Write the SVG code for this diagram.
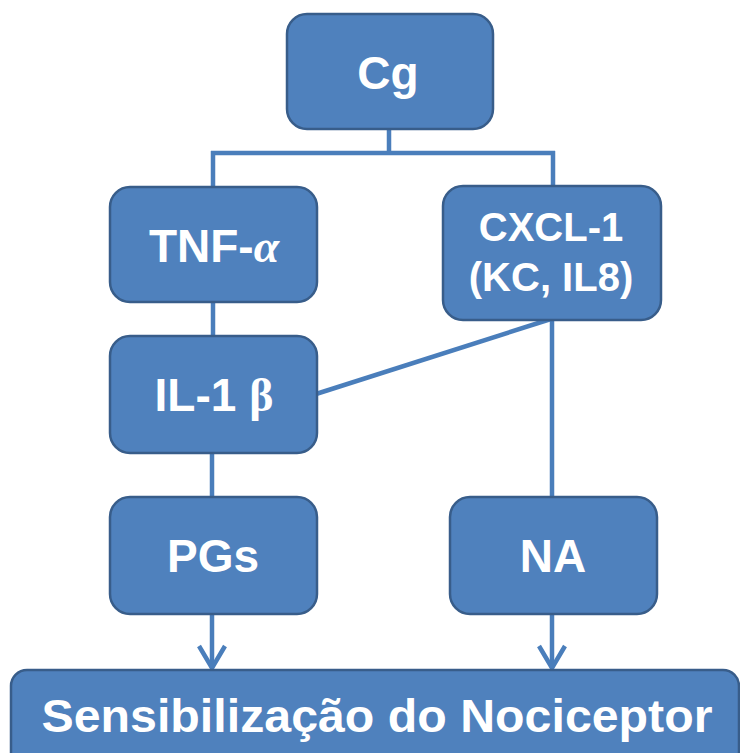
<svg xmlns="http://www.w3.org/2000/svg" width="740" height="753" viewBox="0 0 740 753">
  <defs>
    <style>
      .box { fill: #4F81BD; stroke: #385D8A; stroke-width: 2.5; }
      .lbl { fill: #FFFFFF; font-family: "Liberation Sans", Arial, sans-serif; font-weight: bold; text-anchor: middle; }
      .greek { font-family: "Liberation Serif", "Times New Roman", serif; font-weight: bold; }
      .conn { fill: none; stroke: #4A7EBB; stroke-width: 4.5; }
    </style>
    <marker id="chev" viewBox="0 0 28 30" refX="25" refY="15" markerWidth="28" markerHeight="30" markerUnits="userSpaceOnUse" orient="auto">
      <path d="M3,2 L25,15 L3,28" fill="none" stroke="#4A7EBB" stroke-width="4.5"/>
    </marker>
  </defs>
  <rect width="740" height="753" fill="#FFFFFF"/>

  <g id="connectors">
    <path class="conn" d="M389,130 V153 M211,153 H555 M213,151 V190 M553,151 V190"/>
    <path class="conn" d="M213,302 V340"/>
    <path class="conn" d="M212,452 V500"/>
    <path class="conn" d="M552,318 V500"/>
    <path class="conn" d="M316,394 L554,318"/>
    <path class="conn" d="M212,614 V668" marker-end="url(#chev)"/>
    <path class="conn" d="M552,614 V668" marker-end="url(#chev)"/>
  </g>

  <g id="node-cg">
    <rect class="box" x="287" y="14" width="206" height="115" rx="20"/>
    <text class="lbl" x="388" y="89" font-size="46">Cg</text>
  </g>

  <g id="node-tnf">
    <rect class="box" x="110" y="187" width="207" height="115" rx="20"/>
    <text class="lbl" x="214" y="262" font-size="46">TNF-<tspan class="greek" font-style="italic">α</tspan></text>
  </g>

  <g id="node-cxcl">
    <rect class="box" x="443" y="186" width="218" height="134" rx="20"/>
    <text class="lbl" x="551" y="241" font-size="40">CXCL-1</text>
    <text class="lbl" x="551" y="291" font-size="40">(KC, IL8)</text>
  </g>

  <g id="node-il1">
    <rect class="box" x="110" y="336" width="207" height="117" rx="20"/>
    <text class="lbl" x="214" y="411" font-size="46">IL-1 <tspan class="greek">β</tspan></text>
  </g>

  <g id="node-pgs">
    <rect class="box" x="110" y="497" width="207" height="117" rx="20"/>
    <text class="lbl" x="213" y="572" font-size="46">PGs</text>
  </g>

  <g id="node-na">
    <rect class="box" x="450" y="497" width="207" height="117" rx="20"/>
    <text class="lbl" x="553" y="572" font-size="46">NA</text>
  </g>

  <g id="node-sens">
    <rect class="box" x="11" y="670" width="728" height="110" rx="16"/>
    <text class="lbl" x="377" y="732" font-size="47" textLength="671" lengthAdjust="spacingAndGlyphs">Sensibilização do Nociceptor</text>
  </g>
</svg>
